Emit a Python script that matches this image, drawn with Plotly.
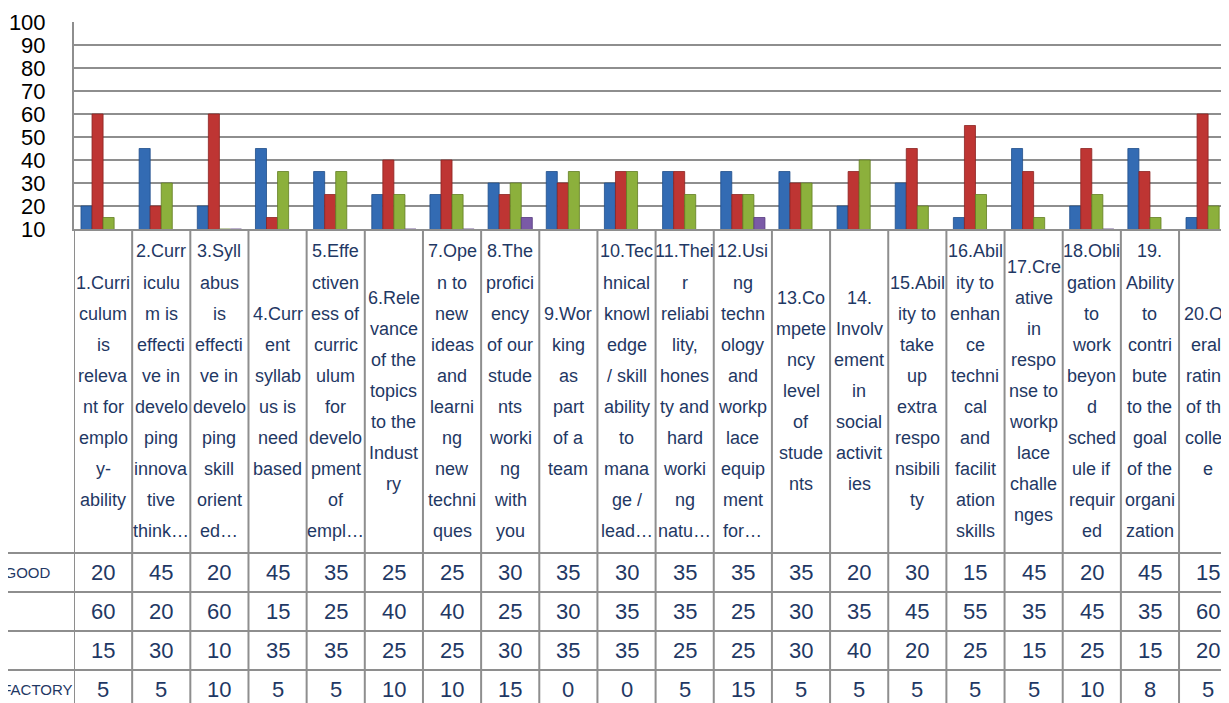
import plotly.graph_objects as go

# ---------------- data ----------------
categories = [
    "1.Curri<br>culum<br>is<br>releva<br>nt for<br>emplo<br>y-<br>ability",
    "2.Curr<br>iculu<br>m is<br>effecti<br>ve in<br>develo<br>ping<br>innova<br>tive<br>think…",
    "3.Syll<br>abus<br>is<br>effecti<br>ve in<br>develo<br>ping<br>skill<br>orient<br>ed…",
    "4.Curr<br>ent<br>syllab<br>us is<br>need<br>based",
    "5.Effe<br>ctiven<br>ess of<br>curric<br>ulum<br>for<br>develo<br>pment<br>of<br>empl…",
    "6.Rele<br>vance<br>of the<br>topics<br>to the<br>Indust<br>ry",
    "7.Ope<br>n to<br>new<br>ideas<br>and<br>learni<br>ng<br>new<br>techni<br>ques",
    "8.The<br>profici<br>ency<br>of our<br>stude<br>nts<br>worki<br>ng<br>with<br>you",
    "9.Wor<br>king<br>as<br>part<br>of a<br>team",
    "10.Tec<br>hnical<br>knowl<br>edge<br>/ skill<br>ability<br>to<br>mana<br>ge /<br>lead…",
    "11.Thei<br>r<br>reliabi<br>lity,<br>hones<br>ty and<br>hard<br>worki<br>ng<br>natu…",
    "12.Usi<br>ng<br>techn<br>ology<br>and<br>workp<br>lace<br>equip<br>ment<br>for…",
    "13.Co<br>mpete<br>ncy<br>level<br>of<br>stude<br>nts",
    "14.<br>Involv<br>ement<br>in<br>social<br>activit<br>ies",
    "15.Abil<br>ity to<br>take<br>up<br>extra<br>respo<br>nsibili<br>ty",
    "16.Abil<br>ity to<br>enhan<br>ce<br>techni<br>cal<br>and<br>facilit<br>ation<br>skills",
    "17.Cre<br>ative<br>in<br>respo<br>nse to<br>workp<br>lace<br>challe<br>nges",
    "18.Obli<br>gation<br>to<br>work<br>beyon<br>d<br>sched<br>ule if<br>requir<br>ed",
    "19.<br>Ability<br>to<br>contri<br>bute<br>to the<br>goal<br>of the<br>organi<br>zation",
    "20.Ov<br>erall<br>rating<br>of the<br>colleg<br>e",
]

series_names = ["VERY GOOD", "GOOD", "FAIR", "SATISFACTORY"]
very_good = [20, 45, 20, 45, 35, 25, 25, 30, 35, 30, 35, 35, 35, 20, 30, 15, 45, 20, 45, 15]
good = [60, 20, 60, 15, 25, 40, 40, 25, 30, 35, 35, 25, 30, 35, 45, 55, 35, 45, 35, 60]
fair = [15, 30, 10, 35, 35, 25, 25, 30, 35, 35, 25, 25, 30, 40, 20, 25, 15, 25, 15, 20]
satisfactory = [5, 5, 10, 5, 5, 10, 10, 15, 0, 0, 5, 15, 5, 5, 5, 5, 5, 10, 8, 5]
series_values = [very_good, good, fair, satisfactory]

y_ticks = [10, 20, 30, 40, 50, 60, 70, 80, 90, 100]

# ---------------- styling ----------------
OFF = 8                      # page body margin
W, H = 1229 - OFF, 703 - OFF
ML = 74 - OFF
PLOT_W = W - ML
COL_PX = 58.16
colors = ["#336BB3", "#BE3533", "#8CB03C", "#7A5AA6"]
edge = ["#1F4E8A", "#8C2321", "#627E22", "#56397F"]
NAVY = "#1F3864"
GRID = "#8E8E8E"
FONT = "Liberation Sans, Arial, sans-serif"


def py(p):
    """page pixel row -> paper y"""
    return (H - (p - OFF)) / H


def px(p):
    """page pixel column -> paper x"""
    return (p - OFF - ML) / PLOT_W


x_idx = list(range(len(categories)))

fig = go.Figure()
for name, vals, c, e in zip(series_names, series_values, colors, edge):
    fig.add_trace(go.Bar(
        x=x_idx, y=vals, name=name,
        marker=dict(color=c, line=dict(color=e, width=0.8)),
        hoverinfo="y",
    ))

plot_top, plot_bot = 22, 229
label_mid = 391
line_h = 31
row_lines = [553, 592, 631, 670]
row_mid = [572.5, 611.5, 650.5, 689]

shapes = []
for k in range(len(categories) + 1):
    shapes.append(dict(type="line", xref="x", yref="paper",
                       x0=k - 0.5, x1=k - 0.5, y0=0, y1=py(plot_bot),
                       line=dict(color=GRID, width=2)))
for r in row_lines:
    shapes.append(dict(type="line", xref="paper", yref="paper",
                       x0=px(0), x1=1, y0=py(r), y1=py(r),
                       line=dict(color=GRID, width=2)))

annotations = []
for i, cat in enumerate(categories):
    lines = cat.split("<br>")
    n = len(lines)
    for j, ln in enumerate(lines):
        yc = label_mid + (j - (n - 1) / 2) * line_h
        annotations.append(dict(x=i, y=py(yc), xref="x", yref="paper",
                                text=ln, showarrow=False,
                                xanchor="center", yanchor="middle",
                                font=dict(family=FONT, size=18, color=NAVY)))
for r, vals in enumerate(series_values):
    for i, v in enumerate(vals):
        annotations.append(dict(x=i, y=py(row_mid[r]), xref="x", yref="paper",
                                text=str(v), showarrow=False,
                                xanchor="center", yanchor="middle",
                                font=dict(family=FONT, size=22, color=NAVY)))
    annotations.append(dict(x=px(-42), y=py(row_mid[r]),
                            xref="paper", yref="paper",
                            text=series_names[r], showarrow=False,
                            xanchor="left", yanchor="middle",
                            font=dict(family=FONT, size=15, color=NAVY)))

fig.update_layout(
    width=W, height=H,
    margin=dict(l=ML, r=0, t=0, b=0, autoexpand=False),
    paper_bgcolor="white", plot_bgcolor="white",
    showlegend=False,
    barmode="group", bargap=0.24, bargroupgap=0,
    xaxis=dict(range=[-0.5, -0.5 + PLOT_W / COL_PX], showticklabels=False,
               showgrid=False, zeroline=False, showline=True,
               linecolor=GRID, linewidth=2, fixedrange=True, automargin=False),
    yaxis=dict(domain=[py(plot_bot), py(plot_top)], range=[10, 100],
               tickvals=y_ticks, ticks="outside", ticklen=22,
               tickcolor="rgba(0,0,0,0)", automargin=False,
               tickfont=dict(family=FONT, size=22, color="black"),
               showgrid=True, gridcolor=GRID, gridwidth=2,
               zeroline=False, showline=True, linecolor=GRID, linewidth=2),
    shapes=shapes,
    annotations=annotations,
)

fig.write_html("out.html")
